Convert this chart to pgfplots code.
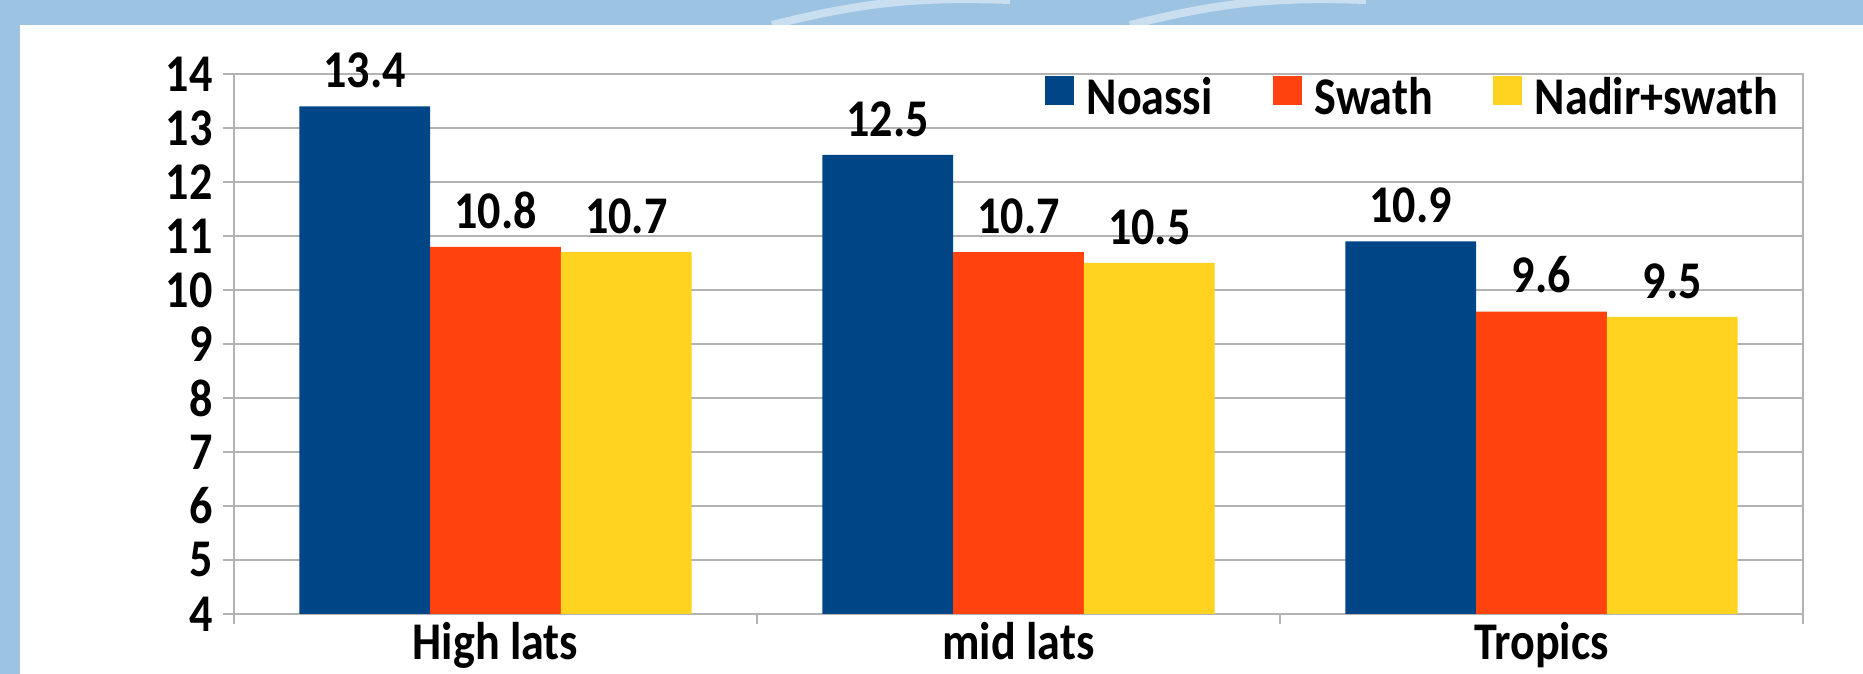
\documentclass[border=0pt]{standalone}
\usepackage{fontspec}
\setmainfont{Carlito}[FakeStretch=0.87]
\usepackage{pgfplots}
\pgfplotsset{compat=1.18}

\definecolor{noassi}{HTML}{004586}
\definecolor{swath}{HTML}{FF420E}
\definecolor{nadir}{HTML}{FFD320}
\definecolor{gridgray}{HTML}{B3B3B3}
\definecolor{slideblue}{RGB}{157,195,226}

\newcommand{\lbl}{\fontsize{26.5}{30}\selectfont\bfseries}

% px -> pt: 1 px = 0.5 pt, page 1863 x 674 px
\begin{document}
\begin{tikzpicture}
\useasboundingbox (0,0) rectangle (931.5pt,337pt);
% slide background
\fill[slideblue] (0,0) rectangle (931.5pt,337pt);
\begin{scope}
  \clip (0,324.5pt) rectangle (931.5pt,337pt);
  \draw[white, opacity=0.45, line width=4pt] (386pt,324.5pt) to[bend left=8] (505pt,337pt);
  \draw[white, opacity=0.45, line width=4pt] (565pt,324.5pt) to[bend left=8] (683pt,337pt);
\end{scope}
\fill[white] (10pt,0) rectangle (931.5pt,324.5pt);

\begin{axis}[
    at={(117pt,30pt)}, anchor=south west,
    scale only axis,
    width=784.5pt, height=270pt,
    ybar=0pt,
    bar width=0.25,
    xmin=-0.5, xmax=2.5,
    ymin=4, ymax=14,
    ytick={4,5,...,14},
    xtick={0,1,2},
    xticklabels={High lats, mid lats, Tropics},
    minor xtick={-0.5,0.5,1.5,2.5},
    tick pos=left,
    major x tick style={draw=none},
    minor x tick style={gridgray, line width=0.8pt},
    ytick style={gridgray, line width=0.8pt},
    tick align=outside,
    major tick length=5.5pt,
    minor tick length=5pt,
    ymajorgrids=true,
    grid style={gridgray, line width=0.8pt},
    axis line style={gridgray, line width=0.8pt},
    /pgf/number format/assume math mode=true,
    tick label style={font=\lbl, inner sep=0pt},
    yticklabel style={anchor=east, xshift=-5pt},
    xticklabel style={anchor=base, yshift=-17.5pt},
    nodes near coords,
    nodes near coords style={font=\lbl, anchor=south, inner sep=0pt, yshift=9pt, black},
    legend columns=3,
    legend style={at={(1,1)}, anchor=north east, xshift=-12pt, yshift=-1pt,
        draw=none, fill=none, inner sep=0pt,
        font=\lbl,
        nodes={inner sep=0pt},
        /tikz/every odd column/.style={column sep=6.5pt},
        /tikz/every even column/.style={column sep=30pt}},
    legend image code/.code={\fill[#1, draw=none] (0pt,-4pt) rectangle (14.5pt,10.5pt);},
]
\addplot[fill=noassi, draw=none] coordinates {(0,13.4) (1,12.5) (2,10.9)};
\addplot[fill=swath, draw=none] coordinates {(0,10.8) (1,10.7) (2,9.6)};
\addplot[fill=nadir, draw=none] coordinates {(0,10.7) (1,10.5) (2,9.5)};
\legend{Noassi, Swath, Nadir+swath}
\end{axis}
\end{tikzpicture}
\end{document}
